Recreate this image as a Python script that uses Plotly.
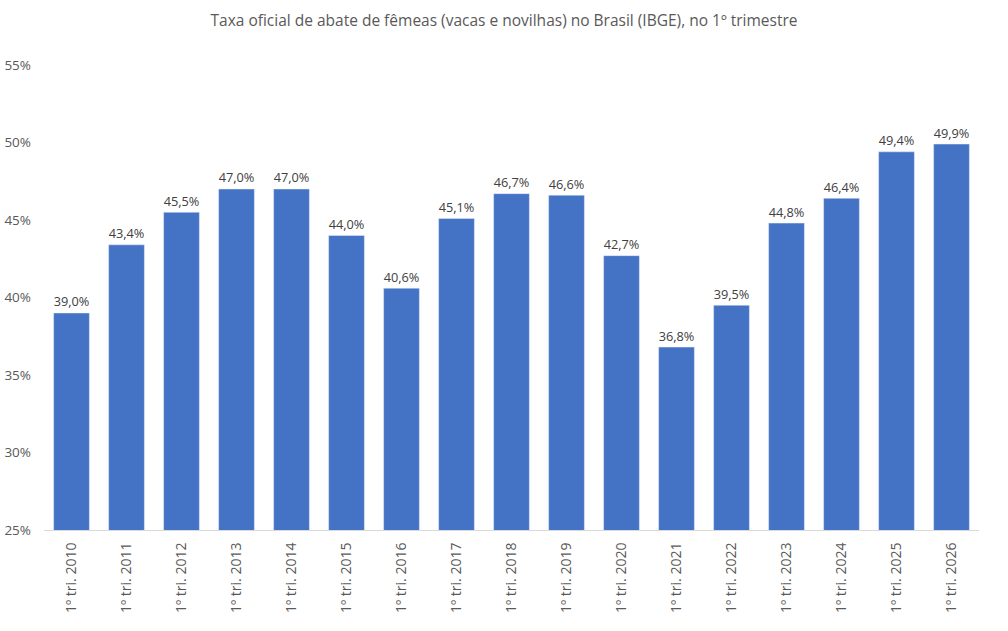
import plotly.graph_objects as go

categories = ["1º tri. 2010", "1º tri. 2011", "1º tri. 2012", "1º tri. 2013", "1º tri. 2014",
              "1º tri. 2015", "1º tri. 2016", "1º tri. 2017", "1º tri. 2018", "1º tri. 2019",
              "1º tri. 2020", "1º tri. 2021", "1º tri. 2022", "1º tri. 2023", "1º tri. 2024",
              "1º tri. 2025", "1º tri. 2026"]
values = [39.0, 43.4, 45.5, 47.0, 47.0, 44.0, 40.6, 45.1, 46.7, 46.6, 42.7, 36.8, 39.5,
          44.8, 46.4, 49.4, 49.9]
y_ticks = [25, 30, 35, 40, 45, 50, 55]
y_tick_labels = ["25%", "30%", "35%", "40%", "45%", "50%", "55%"]

fig = go.Figure(go.Bar(
    x=categories, y=values,
    marker_color="#4472C4",
    texttemplate="%{y:.1f}%",
    textposition="outside",
    textfont=dict(size=14.5, color="#404040", family="Open Sans"),
    cliponaxis=False,
))

fig.update_layout(
    width=1008, height=631,
    margin=dict(l=44, r=29, t=65, b=101),
    paper_bgcolor="white", plot_bgcolor="white",
    separators=",.",
    bargap=0.35,
    showlegend=False,
    title=dict(text="Taxa oficial de abate de fêmeas (vacas e novilhas) no Brasil (IBGE), no 1º trimestre",
               x=0.5, xanchor="center", y=0.968, yanchor="middle",
               font=dict(size=15.5, color="#595959", family="Open Sans")),
    font=dict(family="Open Sans", color="#595959", size=13),
)
fig.update_yaxes(range=[25, 55], tickmode="array", tickvals=y_ticks, ticktext=y_tick_labels,
                 showgrid=False, zeroline=False, showline=False, ticks="", ticklabelstandoff=12,
                 automargin=False, tickfont=dict(size=13.5, color="#595959"))
fig.update_xaxes(tickangle=-90, showline=True, linecolor="#D9D9D9", linewidth=1,
                 automargin=False, ticks="", tickfont=dict(size=14, color="#595959"),
                 ticklabelstandoff=6)

fig.write_html("out.html")
